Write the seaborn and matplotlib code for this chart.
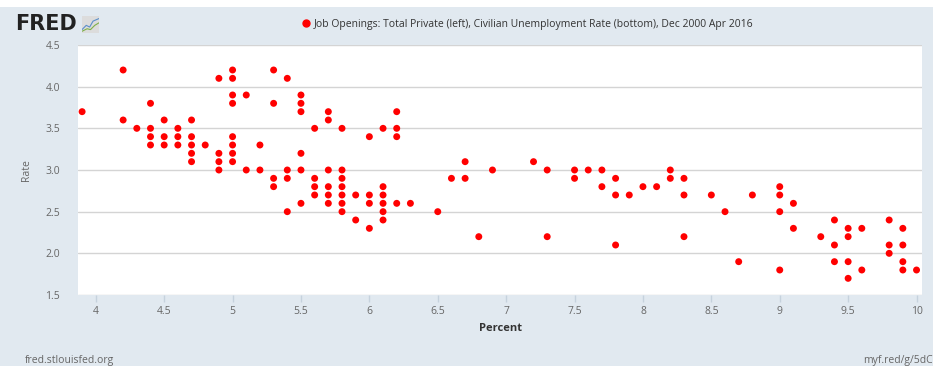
import matplotlib
matplotlib.use("Agg")
import matplotlib.pyplot as plt
import seaborn as sns
import pandas as pd
from matplotlib.patches import Rectangle
from matplotlib.ticker import FuncFormatter, MultipleLocator

# Civilian unemployment rate (percent) and job openings rate
unemployment = [
    3.9,
    4.2, 4.2,
    4.3,
    4.4, 4.4, 4.4, 4.4,
    4.5, 4.5, 4.5,
    4.6, 4.6, 4.6,
    4.7, 4.7, 4.7, 4.7, 4.7,
    4.8,
    4.9, 4.9, 4.9, 4.9,
    5.0, 5.0, 5.0, 5.0, 5.0, 5.0, 5.0, 5.0,
    5.1, 5.1,
    5.2, 5.2,
    5.3, 5.3, 5.3, 5.3,
    5.4, 5.4, 5.4, 5.4,
    5.5, 5.5, 5.5, 5.5, 5.5, 5.5,
    5.6, 5.6, 5.6, 5.6,
    5.7, 5.7, 5.7, 5.7, 5.7, 5.7,
    5.8, 5.8, 5.8, 5.8, 5.8, 5.8, 5.8,
    5.9, 5.9,
    6.0, 6.0, 6.0, 6.0,
    6.1, 6.1, 6.1, 6.1, 6.1, 6.1,
    6.2, 6.2, 6.2, 6.2,
    6.3,
    6.5,
    6.6,
    6.7, 6.7,
    6.8,
    6.9,
    7.2,
    7.3, 7.3,
    7.5, 7.5,
    7.6,
    7.7, 7.7,
    7.8, 7.8, 7.8,
    7.9,
    8.0,
    8.1,
    8.2, 8.2,
    8.3, 8.3, 8.3,
    8.5,
    8.6,
    8.7,
    8.8,
    9.0, 9.0, 9.0, 9.0,
    9.1, 9.1,
    9.3,
    9.4, 9.4, 9.4,
    9.5, 9.5, 9.5, 9.5,
    9.6, 9.6,
    9.8, 9.8, 9.8,
    9.9, 9.9, 9.9, 9.9,
    10.0,
]
openings = [
    3.7,
    4.2, 3.6,
    3.5,
    3.8, 3.5, 3.4, 3.3,
    3.6, 3.4, 3.3,
    3.5, 3.4, 3.3,
    3.6, 3.4, 3.3, 3.2, 3.1,
    3.3,
    4.1, 3.2, 3.1, 3.0,
    4.2, 4.1, 3.9, 3.8, 3.4, 3.3, 3.2, 3.1,
    3.9, 3.0,
    3.3, 3.0,
    4.2, 3.8, 2.9, 2.8,
    4.1, 3.0, 2.9, 2.5,
    3.9, 3.8, 3.7, 3.2, 3.0, 2.6,
    3.5, 2.9, 2.8, 2.7,
    3.7, 3.6, 3.0, 2.8, 2.7, 2.6,
    3.5, 3.0, 2.9, 2.8, 2.7, 2.6, 2.5,
    2.7, 2.4,
    3.4, 2.7, 2.6, 2.3,
    3.5, 2.8, 2.7, 2.6, 2.5, 2.4,
    3.7, 3.5, 3.4, 2.6,
    2.6,
    2.5,
    2.9,
    3.1, 2.9,
    2.2,
    3.0,
    3.1,
    3.0, 2.2,
    3.0, 2.9,
    3.0,
    3.0, 2.8,
    2.9, 2.7, 2.1,
    2.7,
    2.8,
    2.8,
    3.0, 2.9,
    2.9, 2.7, 2.2,
    2.7,
    2.5,
    1.9,
    2.7,
    2.8, 2.7, 2.5, 1.8,
    2.6, 2.3,
    2.2,
    2.4, 2.1, 1.9,
    2.3, 2.2, 1.9, 1.7,
    2.3, 1.8,
    2.4, 2.1, 2.0,
    2.3, 2.1, 1.9, 1.8,
    1.8,
]
series_label = ("Job Openings: Total Private (left), Civilian Unemployment Rate "
                "(bottom), Dec 2000 Apr 2016")

BG = "#e1e9f0"
GREY = "#666666"

sns.set_style("white")
plt.rcParams["font.family"] = ["Open Sans", "DejaVu Sans"]

df = pd.DataFrame({"Percent": unemployment, "Rate": openings})

W, H = 933, 366
fig = plt.figure(figsize=(W / 100, H / 100), dpi=100, facecolor=BG)
fig.patches.append(Rectangle((0, 1 - 7 / H), 1, 7 / H, transform=fig.transFigure,
                             facecolor="white", edgecolor="none", zorder=0))

ax = fig.add_axes([78 / W, 1 - 295 / H, (922 - 78) / W, (295 - 45) / H])
ax.set_facecolor("white")

sns.scatterplot(data=df, x="Percent", y="Rate", color="#ff0000", s=25,
                edgecolor="none", linewidth=0, legend=False, ax=ax, zorder=3)

ax.set_xlim(3.87, 10.04)
ax.set_ylim(1.5, 4.5)
ax.xaxis.set_major_locator(MultipleLocator(0.5))
ax.yaxis.set_major_locator(MultipleLocator(0.5))
ax.xaxis.set_major_formatter(FuncFormatter(lambda v, p: f"{v:g}"))
ax.yaxis.set_major_formatter(FuncFormatter(lambda v, p: f"{v:.1f}"))
ax.grid(axis="y", color="#d4d4d4", linewidth=1.0)
ax.grid(axis="x", visible=False)
for s in ax.spines.values():
    s.set_visible(False)

ax.tick_params(axis="x", colors="#c6d2dd", length=5, width=1, pad=3,
               labelcolor=GREY, labelsize=7.5, bottom=True)
ax.tick_params(axis="y", length=0, pad=13, labelcolor=GREY, labelsize=7.5)

ax.set_xlabel("Percent", fontsize=8, fontweight="bold", color="#333333", labelpad=4)
ax.set_ylabel("")
fig.text(27 / W, 1 - 170 / H, "Rate", rotation=90, ha="center", va="center",
         fontsize=7.5, color=GREY)

# legend across the top
handle = plt.Line2D([], [], marker="o", linestyle="none", color="#ff0000",
                    markersize=5)
fig.legend([handle], [series_label], loc="center", bbox_to_anchor=(527 / W, 1 - 24 / H),
           frameon=False, fontsize=7.5, handletextpad=0.2, handlelength=1.0,
           labelcolor="#333333")

# FRED logo
fig.text(15 / W, 1 - 24 / H, "FRED", fontsize=15, fontweight="heavy",
         color="#222222", va="center", ha="left", family="DejaVu Sans")
icon = fig.add_axes([82 / W, 1 - 33 / H, 17 / W, 17 / H])
icon.set_facecolor("#dcdcdc")
icon.plot([0, 0.25, 0.45, 0.65, 1.0], [0.2, 0.45, 0.35, 0.7, 0.85], color="#5b8fc9", lw=0.8)
icon.plot([0, 0.3, 0.5, 0.75, 1.0], [0.1, 0.25, 0.2, 0.45, 0.6], color="#7fb04a", lw=0.8)
icon.set_xlim(0, 1)
icon.set_ylim(0, 1)
icon.set_xticks([])
icon.set_yticks([])
for s in icon.spines.values():
    s.set_visible(False)

fig.text(25 / W, 1 - 360 / H, "fred.stlouisfed.org", fontsize=7.5, color=GREY,
         va="center", ha="left")
fig.text(863 / W, 1 - 360 / H, "myf.red/g/5dC", fontsize=7.5, color=GREY,
         va="center", ha="left")

fig.savefig("out.png", dpi=100, facecolor=BG)
